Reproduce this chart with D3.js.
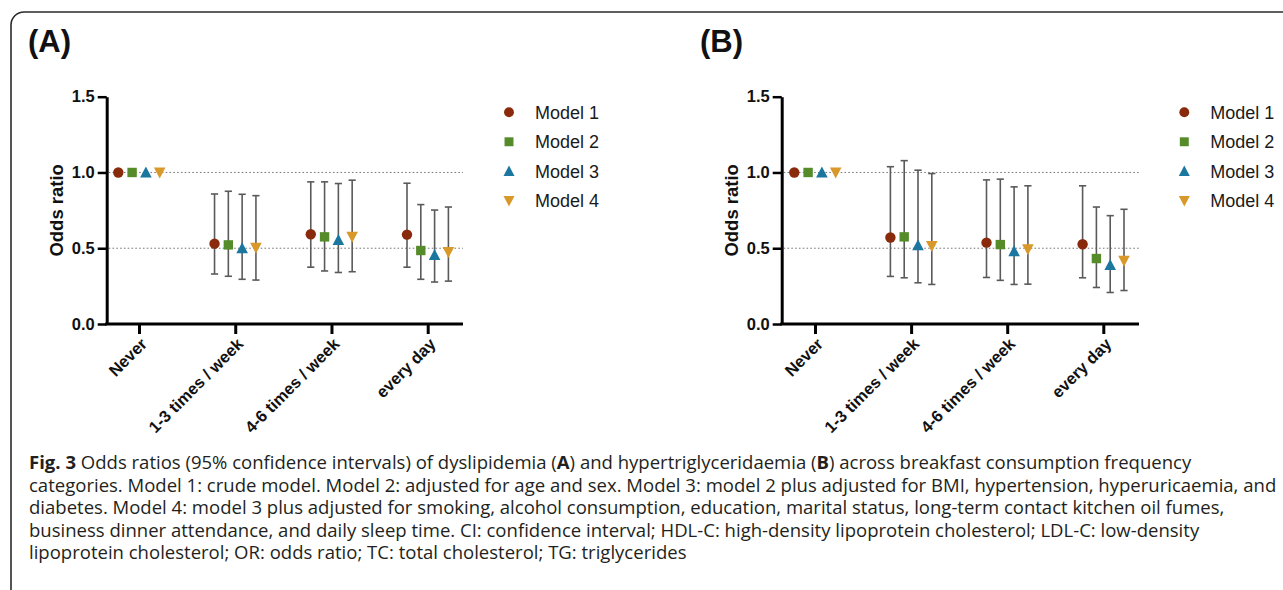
<!DOCTYPE html>
<html>
<head>
<meta charset="utf-8">
<script src="https://cdn.jsdelivr.net/npm/d3@7"></script>
<style>
  html, body { margin: 0; padding: 0; background: #fff; }
  svg { display: block; }
</style>
</head>
<body>
<svg id="chart" width="1283" height="590"></svg>
<script>
// ---------------- DATA ----------------
const categories = ["Never", "1-3 times / week", "4-6 times / week", "every day"];
const models = ["Model 1", "Model 2", "Model 3", "Model 4"];
const yTicks = [0.0, 0.5, 1.0, 1.5];

// Panel A: dyslipidemia (rows = models, cols = categories)
const A_or = [[1, 0.530, 0.592, 0.590], [1, 0.522, 0.575, 0.485], [1, 0.500, 0.555, 0.455], [1, 0.503, 0.575, 0.475]];
const A_lo = [[null, 0.330, 0.375, 0.375], [null, 0.315, 0.350, 0.295], [null, 0.295, 0.340, 0.277], [null, 0.290, 0.345, 0.283]];
const A_hi = [[null, 0.858, 0.938, 0.929], [null, 0.876, 0.938, 0.788], [null, 0.856, 0.927, 0.752], [null, 0.847, 0.949, 0.772]];

// Panel B: hypertriglyceridaemia
const B_or = [[1, 0.571, 0.537, 0.526], [1, 0.575, 0.524, 0.432], [1, 0.520, 0.480, 0.390], [1, 0.515, 0.493, 0.417]];
const B_lo = [[null, 0.314, 0.307, 0.305], [null, 0.305, 0.288, 0.241], [null, 0.272, 0.261, 0.208], [null, 0.261, 0.263, 0.221]];
const B_hi = [[null, 1.038, 0.951, 0.912], [null, 1.078, 0.956, 0.772], [null, 1.015, 0.905, 0.715], [null, 0.993, 0.912, 0.757]];

const colors = ["#8a2a0c", "#568b2a", "#1b77a0", "#d9992a"];
const shapes = ["circle", "square", "triUp", "triDown"];

const captionLines = [
  [{t: "Fig. 3", b: true}, {t: " Odds ratios (95% confidence intervals) of dyslipidemia ("}, {t: "A", b: true}, {t: ") and hypertriglyceridaemia ("}, {t: "B", b: true}, {t: ") across breakfast consumption frequency"}],
  [{t: "categories. Model 1: crude model. Model 2: adjusted for age and sex. Model 3: model 2 plus adjusted for BMI, hypertension, hyperuricaemia, and"}],
  [{t: "diabetes. Model 4: model 3 plus adjusted for smoking, alcohol consumption, education, marital status, long-term contact kitchen oil fumes,"}],
  [{t: "business dinner attendance, and daily sleep time. CI: confidence interval; HDL-C: high-density lipoprotein cholesterol; LDL-C: low-density"}],
  [{t: "lipoprotein cholesterol; OR: odds ratio; TC: total cholesterol; TG: triglycerides"}]
];

// ---------------- DRAW ----------------
const svg = d3.select("#chart");
const FONT = "'Liberation Sans', Arial, Helvetica, sans-serif";

// frame
svg.append("rect")
  .attr("x", 11).attr("y", 12).attr("width", 1320).attr("height", 640)
  .attr("rx", 13).attr("ry", 13)
  .attr("fill", "none").attr("stroke", "#2b2b2b").attr("stroke-width", 1.6);

function markerPath(shape, s) {
  const p = d3.path();
  if (shape === "circle") {
    p.arc(0, 0, s * 0.52, 0, 2 * Math.PI);
  } else if (shape === "square") {
    const h = s * 0.47;
    p.rect(-h, -h, 2 * h, 2 * h);
  } else if (shape === "triUp") {
    const w = s * 0.58, hh = s * 0.5;
    p.moveTo(0, -hh - 1); p.lineTo(w, hh); p.lineTo(-w, hh); p.closePath();
  } else {
    const w = s * 0.58, hh = s * 0.5;
    p.moveTo(0, hh + 1); p.lineTo(w, -hh); p.lineTo(-w, -hh); p.closePath();
  }
  return p.toString();
}

function drawPanel(cfg) {
  const g = svg.append("g");
  const y = d3.scaleLinear().domain([0, 1.5]).range([324, 96.7]);
  const x = d3.scalePoint().domain(categories).range([cfg.first, cfg.last]);
  const off = d3.scalePoint().domain(models).range([-20.7, 20.7]);

  // panel letter
  g.append("text").attr("x", cfg.letterX).attr("y", 52)
    .attr("font-family", FONT).attr("font-weight", "bold").attr("font-size", 31)
    .attr("fill", "#111").text(cfg.letter);

  // dotted reference lines
  [0.5, 1.0].forEach(v => {
    g.append("line")
      .attr("x1", cfg.axisX + 2).attr("x2", cfg.endX)
      .attr("y1", y(v)).attr("y2", y(v))
      .attr("stroke", "#777").attr("stroke-width", 1)
      .attr("stroke-dasharray", "1.6,2.2");
  });

  // y axis
  const ya = g.append("g").attr("transform", `translate(${cfg.axisX},0)`)
    .call(d3.axisLeft(y).tickValues(yTicks).tickFormat(d3.format(".1f")).tickSize(9).tickSizeOuter(0).tickPadding(3));
  ya.select(".domain").attr("stroke", "#000").attr("stroke-width", 3);
  ya.selectAll(".tick line").attr("stroke", "#000").attr("stroke-width", 2.5);
  ya.selectAll(".tick text").attr("font-family", FONT).attr("font-weight", "bold")
    .attr("font-size", 16.5).attr("fill", "#111");

  // y label
  g.append("text")
    .attr("transform", `translate(${cfg.axisX - 50},${(y(0) + y(1.5)) / 2}) rotate(-90)`)
    .attr("text-anchor", "middle").attr("dy", "0.35em")
    .attr("font-family", FONT).attr("font-weight", "bold").attr("font-size", 18.5)
    .attr("fill", "#111").text("Odds ratio");

  // x axis line
  g.append("line").attr("x1", cfg.axisX - 1.5).attr("x2", cfg.endX)
    .attr("y1", y(0)).attr("y2", y(0))
    .attr("stroke", "#000").attr("stroke-width", 3);
  const xa = g.append("g").attr("transform", `translate(0,${y(0)})`)
    .call(d3.axisBottom(x).tickSize(10).tickSizeOuter(0).tickFormat(""));
  xa.select(".domain").remove();
  xa.selectAll(".tick line").attr("stroke", "#000").attr("stroke-width", 3);

  // x labels, rotated
  g.selectAll("text.xlab").data(categories).enter().append("text")
    .attr("class", "xlab")
    .attr("transform", d => `translate(${x(d) + 5},${y(0) + 17}) rotate(-45)`)
    .attr("text-anchor", "end").attr("dy", "0.35em")
    .attr("font-family", FONT).attr("font-weight", "bold").attr("font-size", 16.5)
    .attr("fill", "#111").text(d => d);

  // error bars + markers
  models.forEach((m, mi) => {
    categories.forEach((c, ci) => {
      const cx = x(c) + off(m);
      const lo = cfg.lo[mi][ci], hi = cfg.hi[mi][ci];
      if (lo !== null && hi !== null) {
        g.append("line").attr("x1", cx).attr("x2", cx).attr("y1", y(lo)).attr("y2", y(hi))
          .attr("stroke", "#5a5a5a").attr("stroke-width", 1.6);
        [lo, hi].forEach(v => {
          g.append("line").attr("x1", cx - 3.6).attr("x2", cx + 3.6).attr("y1", y(v)).attr("y2", y(v))
            .attr("stroke", "#5a5a5a").attr("stroke-width", 1.6);
        });
      }
    });
  });
  models.forEach((m, mi) => {
    categories.forEach((c, ci) => {
      const cx = x(c) + off(m);
      g.append("path").attr("d", markerPath(shapes[mi], 10))
        .attr("transform", `translate(${cx},${y(cfg.or[mi][ci])})`)
        .attr("fill", colors[mi]);
    });
  });

  // legend
  const rowY = d3.scalePoint().domain(models).range([112.3, 200.7]);
  models.forEach((m, mi) => {
    g.append("path").attr("d", markerPath(shapes[mi], 9.5))
      .attr("transform", `translate(${cfg.legX},${rowY(m)})`)
      .attr("fill", colors[mi]);
    g.append("text").attr("x", cfg.legX + 26).attr("y", rowY(m)).attr("dy", "0.36em")
      .attr("font-family", FONT).attr("font-size", 18).attr("fill", "#1a1a1a").text(m);
  });
}

drawPanel({letter: "(A)", letterX: 28, axisX: 106.7, first: 139, last: 427.7, endX: 463, legX: 509,
  or: A_or, lo: A_lo, hi: A_hi});
drawPanel({letter: "(B)", letterX: 700, axisX: 781.7, first: 815, last: 1103.3, endX: 1139, legX: 1184.3,
  or: B_or, lo: B_lo, hi: B_hi});

// caption: one common font size and one common horizontal scale for all lines
const capX = 29;
const capBase = [469, 491.5, 514, 536.5, 559];
const capNodes = captionLines.map((segs, i) => {
  const t = svg.append("text").attr("x", 0).attr("y", 0)
    .attr("font-family", "'Open Sans', 'Noto Sans', sans-serif").attr("font-size", 17.5)
    .attr("fill", "#231f20");
  segs.forEach(s => {
    t.append("tspan").attr("font-weight", s.b ? "bold" : "normal").text(s.t);
  });
  return t;
});
const w2 = capNodes[1].node().getComputedTextLength();
const sx = Math.min(1.06, Math.max(0.9, (1277 - capX) / w2));
capNodes.forEach((t, i) => t.attr("transform", `translate(${capX},${capBase[i]}) scale(${sx},1)`));
</script>
</body>
</html>
